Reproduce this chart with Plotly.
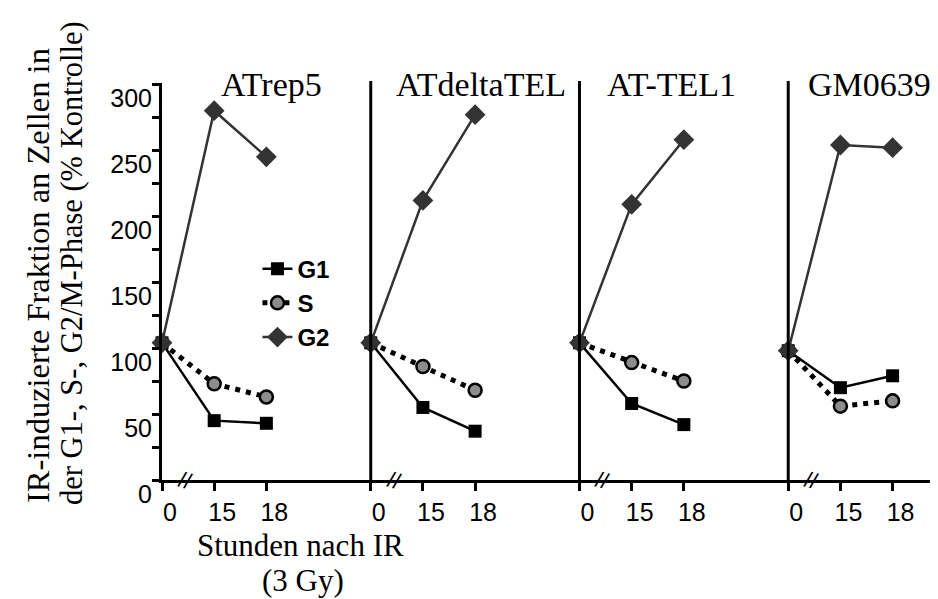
import plotly.graph_objects as go

# Zelllinien und Zeitpunkte (Stunden nach IR)
panels = ["ATrep5", "ATdeltaTEL", "AT-TEL1", "GM0639"]
hours = ["0", "15", "18"]

# Werte in % Kontrolle, je Zelllinie [0 h, 15 h, 18 h]
g1_vals = [[104, 45, 43], [104, 55, 37], [104, 58, 42], [98, 70, 79]]
s_vals = [[104, 73, 63], [104, 86, 68], [104, 89, 75], [98, 56, 60]]
g2_vals = [[104, 280, 245], [104, 212, 277], [104, 209, 258], [98, 254, 252]]

y_ticks = [0, 50, 100, 150, 200, 250, 300]

# Layout-Hilfen (keine Daten)
PANEL_STEP = 4
title_dx = [2.09, 2.11, 1.76, 1.55]
serif = "Liberation Serif, Times New Roman, serif"
sans = "Liberation Sans, Arial, sans-serif"


def series_xy(values):
    """Alle Panels in einer Spur, getrennt durch None"""
    xs, ys = [], []
    for p, row in enumerate(values):
        for j, v in enumerate(row):
            xs.append(p * PANEL_STEP + j)
            ys.append(v)
        xs.append(None)
        ys.append(None)
    return xs, ys


fig = go.Figure()

x, y = series_xy(g1_vals)
fig.add_trace(go.Scatter(
    x=x, y=y, name="G1", mode="lines+markers", cliponaxis=False,
    line=dict(color="black", width=2.5),
    marker=dict(symbol="square", size=13, color="black"),
))

x, y = series_xy(s_vals)
fig.add_trace(go.Scatter(
    x=x, y=y, name="S", mode="lines+markers", cliponaxis=False,
    line=dict(color="black", width=5, dash="5px,6px"),
    marker=dict(symbol="circle", size=13, color="#8c8c8c",
                line=dict(color="black", width=2.5)),
))

x, y = series_xy(g2_vals)
fig.add_trace(go.Scatter(
    x=x, y=y, name="G2", mode="lines+markers", cliponaxis=False,
    line=dict(color="#333333", width=2.5),
    marker=dict(symbol="diamond", size=16, color="#333333"),
))

# Achsenbeschriftung x: 0 / 15 / 18 je Panel
tickvals, ticktext = [], []
for p in range(len(panels)):
    for j, h in enumerate(hours):
        tickvals.append(p * PANEL_STEP + j)
        ticktext.append(h)

annotations = []
for p, name in enumerate(panels):
    off = p * PANEL_STEP
    annotations.append(dict(
        x=off + title_dx[p], y=0.997, xref="x", yref="paper",
        xanchor="center", yanchor="middle",
        text=name, showarrow=False, font=dict(family=serif, size=34, color="black"),
    ))
    # Achsenbruch
    annotations.append(dict(
        x=off + 0.45, y=0, xref="x", yref="y", xanchor="center", yanchor="middle",
        text="//", showarrow=False, textangle=15,
        font=dict(family=sans, size=22, color="black"),
    ))

# y-Achsentitel, zweizeilig
annotations.append(dict(
    x=-0.16, y=-0.062, xref="paper", yref="paper", xanchor="center", yanchor="bottom",
    text="IR-induzierte Fraktion an Zellen in", textangle=-90, showarrow=False,
    font=dict(family=serif, size=32.5, color="black"),
))
annotations.append(dict(
    x=-0.116, y=-0.068, xref="paper", yref="paper", xanchor="center", yanchor="bottom",
    text="der G1-, S-, G2/M-Phase (% Kontrolle)", textangle=-90, showarrow=False,
    font=dict(family=serif, size=30.5, color="black"),
))
# x-Achsentitel
annotations.append(dict(
    x=0.179, y=-0.164, xref="paper", yref="paper", xanchor="center", yanchor="middle",
    text="Stunden nach IR", showarrow=False,
    font=dict(family=serif, size=31, color="black"),
))
annotations.append(dict(
    x=0.182, y=-0.254, xref="paper", yref="paper", xanchor="center", yanchor="middle",
    text="(3 Gy)", showarrow=False,
    font=dict(family=serif, size=31, color="black"),
))

# senkrechte Trennlinien bei 0 h der Panels 2-4
shapes = []
for p in range(1, len(panels)):
    shapes.append(dict(
        type="line", xref="x", yref="paper", x0=p * PANEL_STEP, x1=p * PANEL_STEP,
        y0=0, y1=1.005, line=dict(color="black", width=3),
    ))

# Seite hat 8px Rand im Browser -> Abbildung entsprechend kleiner
fig.update_layout(
    width=930, height=591,
    margin=dict(l=154, r=0, t=75, b=119),
    plot_bgcolor="white", paper_bgcolor="white",
    showlegend=True,
    legend=dict(
        x=0.123, y=0.588, xanchor="left", yanchor="top",
        font=dict(family=sans, size=24, color="black", weight="bold"),
        bgcolor="rgba(0,0,0,0)", tracegroupgap=0,
    ),
    annotations=annotations,
    shapes=shapes,
    xaxis=dict(
        range=[0, 14.87], showgrid=False, zeroline=False,
        showline=True, linecolor="black", linewidth=3,
        tickvals=tickvals, ticktext=ticktext,
        ticks="outside", ticklen=8, tickwidth=2.5, tickcolor="black",
        tickfont=dict(family=sans, size=25, color="black"),
        ticklabelshift=8,
    ),
    yaxis=dict(
        range=[0, 301], showgrid=False, zeroline=False,
        showline=True, linecolor="black", linewidth=3,
        tickvals=y_ticks,
        ticks="outside", ticklen=7, tickwidth=2.5, tickcolor="black",
        tickfont=dict(family=sans, size=25, color="black"),
        ticklabelshift=14, ticklabelstandoff=-5,
        minor=dict(dtick=25, ticks="outside", ticklen=7, tickwidth=2.5, tickcolor="black"),
    ),
)

fig.write_html("out.html")
